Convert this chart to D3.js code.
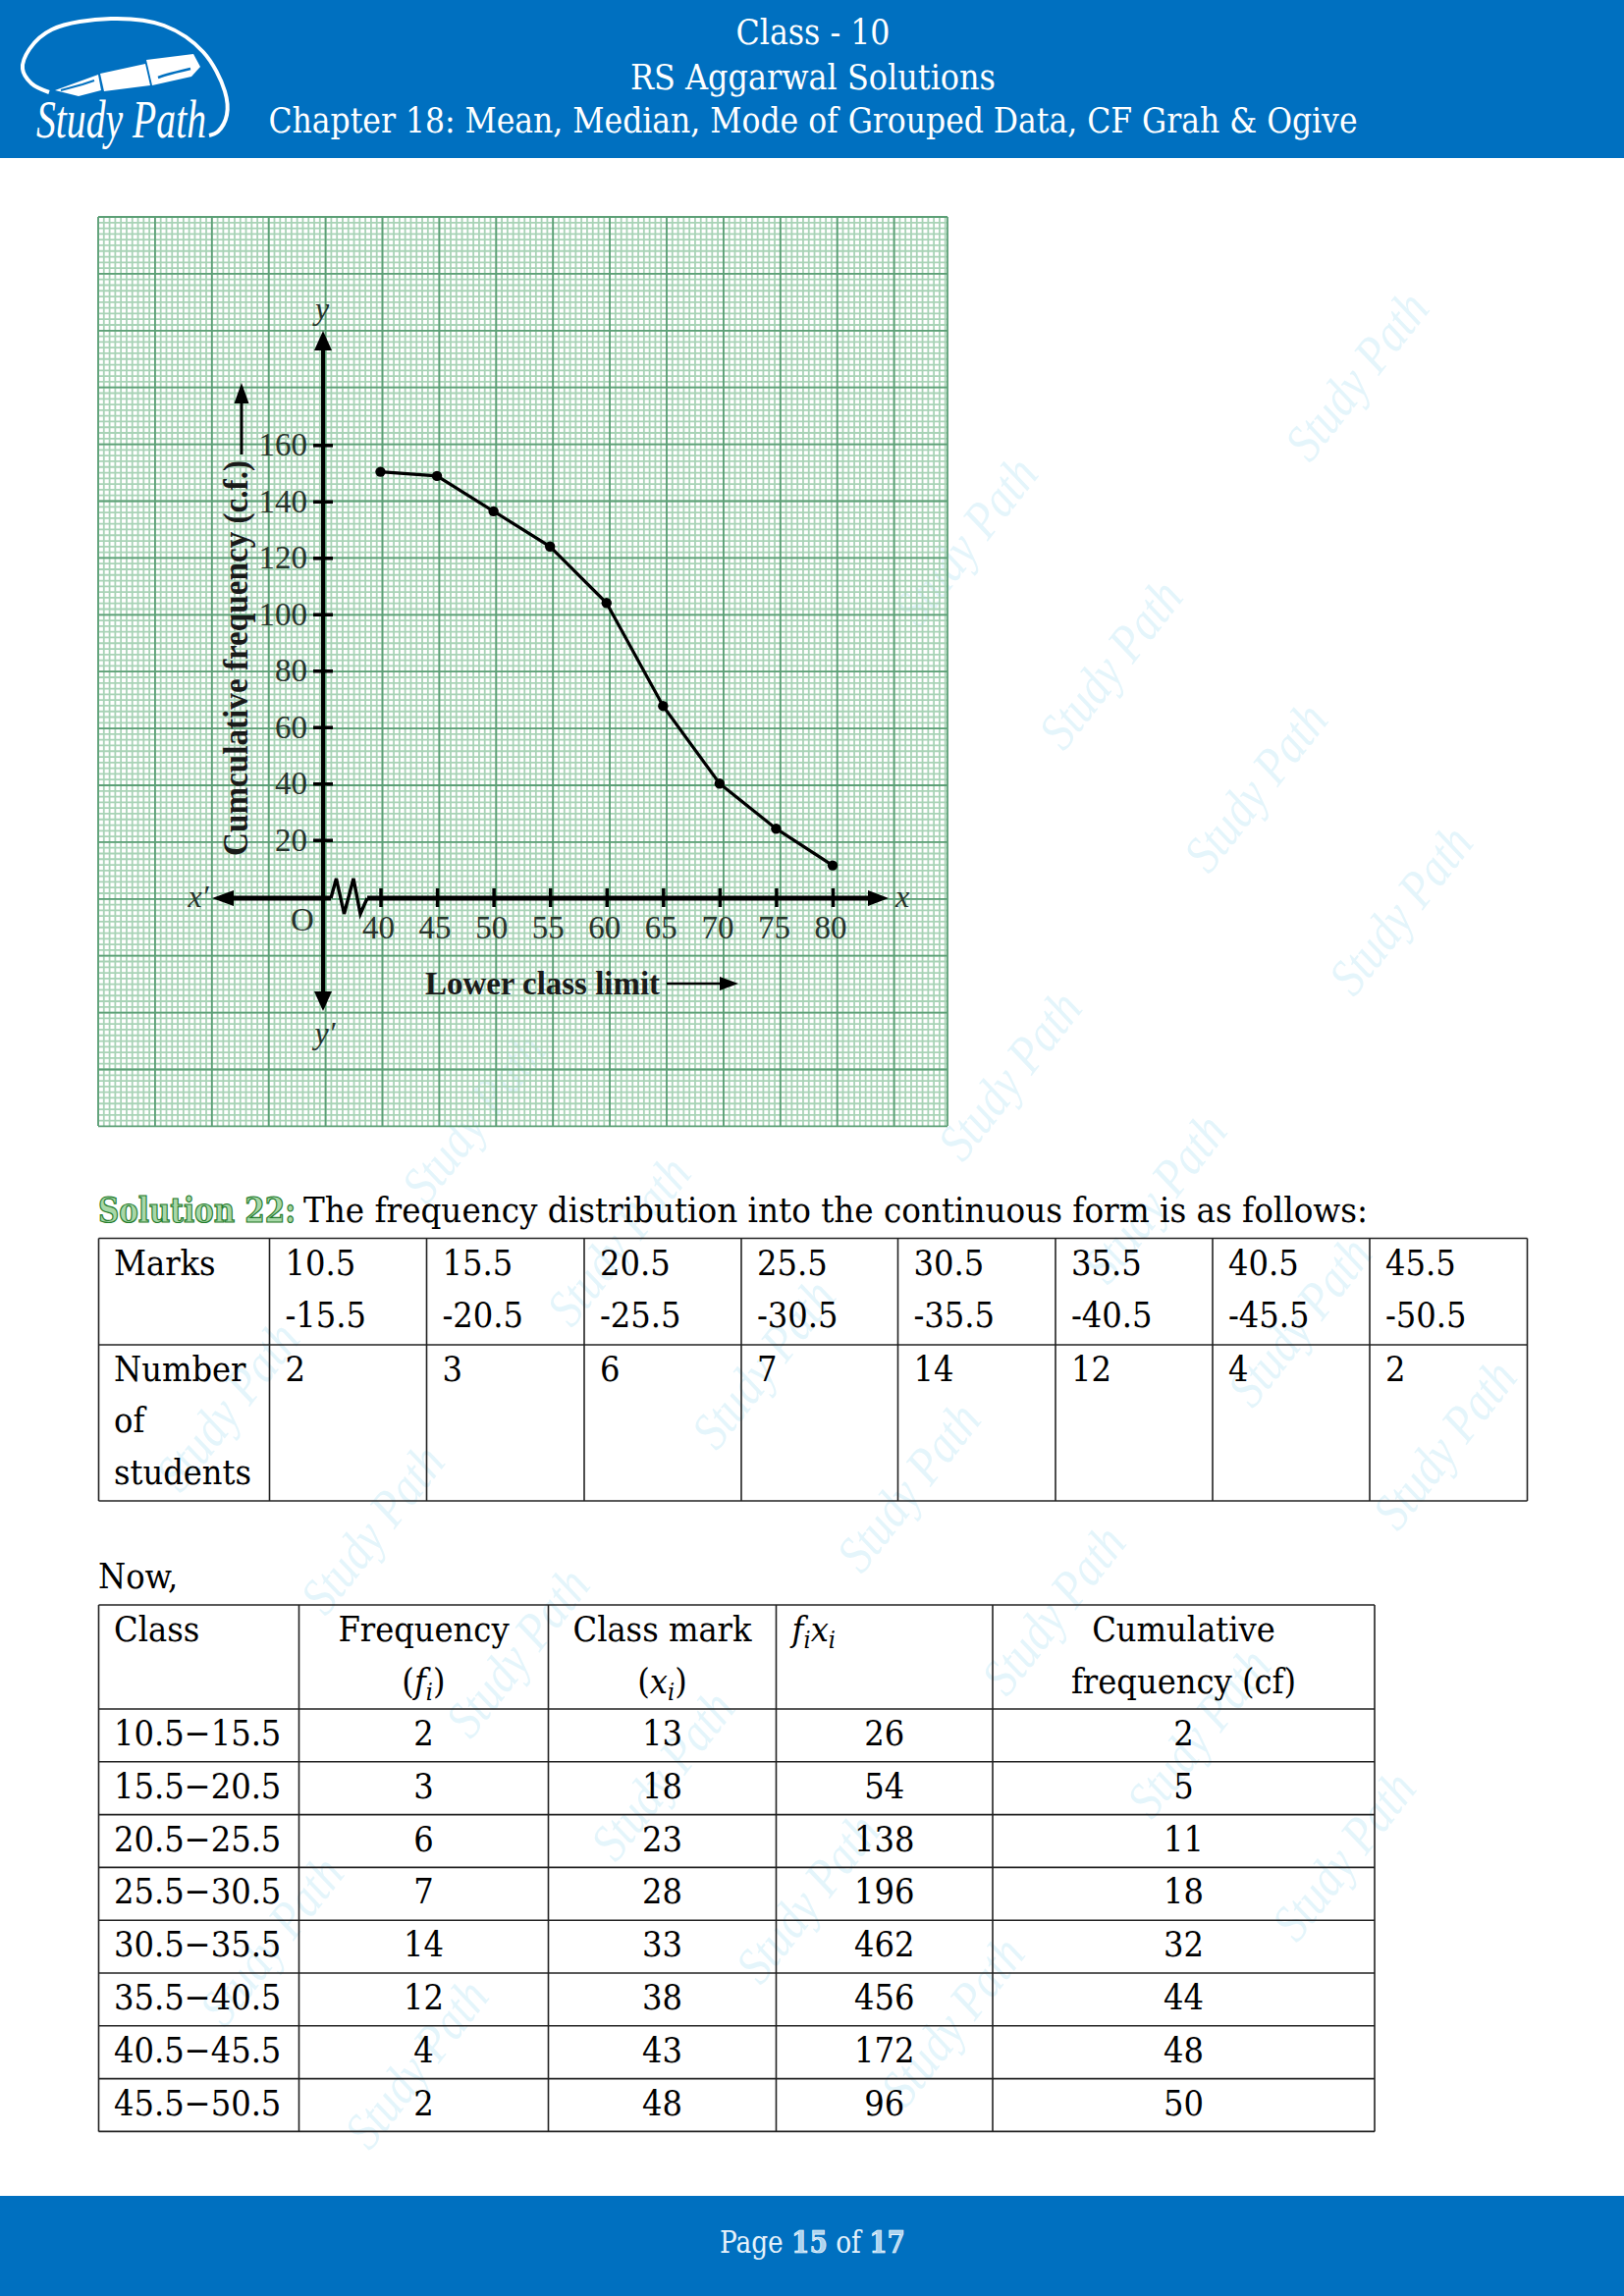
<!DOCTYPE html>
<html>
<head>
<meta charset="utf-8">
<style>
  html, body { margin: 0; padding: 0; background: #fff; }
  svg { display: block; }
  .page { font-family: "DejaVu Serif", serif; font-stretch: condensed; fill: #000; }
  .plot text { font-family: "Liberation Serif", serif; font-stretch: normal; }
</style>
<script src="https://cdn.jsdelivr.net/npm/d3@7"></script>
</head>
<body>
<div id="chart"></div>
<script>
// ogive
var lowerLimits = [40, 45, 50, 55, 60, 65, 70, 75, 80];
var cumFreq = [150.5, 149, 136.5, 124, 104, 67.5, 40, 24, 11];
var yTicks = [20, 40, 60, 80, 100, 120, 140, 160];

// first table
var marksFrom = ['10.5', '15.5', '20.5', '25.5', '30.5', '35.5', '40.5', '45.5'];
var marksTo = ['-15.5', '-20.5', '-25.5', '-30.5', '-35.5', '-40.5', '-45.5', '-50.5'];
var students = [2, 3, 6, 7, 14, 12, 4, 2];

// second table
var classes = ['10.5\u221215.5', '15.5\u221220.5', '20.5\u221225.5', '25.5\u221230.5', '30.5\u221235.5', '35.5\u221240.5', '40.5\u221245.5', '45.5\u221250.5'];
var frequency = [2, 3, 6, 7, 14, 12, 4, 2];
var classMark = [13, 18, 23, 28, 33, 38, 43, 48];
var fx = [26, 54, 138, 196, 462, 456, 172, 96];
var cf = [2, 5, 11, 18, 32, 44, 48, 50];

var headerLines = ['Class - 10', 'RS Aggarwal Solutions', 'Chapter 18: Mean, Median, Mode of Grouped Data, CF Grah & Ogive'];

var width = 1654, height = 2339;
var blue = '#0070c0';

var svg = d3.select('#chart').append('svg')
  .attr('width', width)
  .attr('height', height)
  .attr('class', 'page');

// watermark, laid out as on the page: rows of [first, last] steps
var wmRows = [[0, 0], [-1, 2], [1, 4], [-1, 5], [-1, 4], [1, 2]];
var wm = svg.append('g');
wmRows.forEach(function(r, j) {
  d3.range(r[0], r[1] + 1).forEach(function(i) {
    var cx = 1385 + i * 147.7 - j * 250.6;
    var cy = 385 + i * 125.3 + j * 293.8;
    wm.append('text')
      .attr('transform', 'translate(' + cx + ',' + cy + ') rotate(-52)')
      .attr('text-anchor', 'middle')
      .attr('dy', 14)
      .attr('textLength', 200)
      .attr('lengthAdjust', 'spacingAndGlyphs')
      .style('font-family', '"Liberation Serif", serif')
      .style('font-style', 'italic')
      .style('font-stretch', 'normal')
      .style('font-size', '54px')
      .style('fill', '#e4f5fb')
      .text('Study Path');
  });
});

// header and footer bands
svg.append('rect').attr('width', width).attr('height', 161).attr('fill', blue);
svg.append('rect').attr('y', 2237).attr('width', width).attr('height', 102).attr('fill', blue);

var headerBase = [45, 91, 135];
var headerLen = [157, 372, 1109];
svg.selectAll('.head').data(headerLines).enter().append('text')
  .attr('class', 'head')
  .attr('x', 828)
  .attr('y', function(d, i) { return headerBase[i]; })
  .attr('text-anchor', 'middle')
  .attr('textLength', function(d, i) { return headerLen[i]; })
  .attr('lengthAdjust', 'spacingAndGlyphs')
  .style('font-size', '35px')
  .style('fill', '#fff')
  .text(function(d) { return d; });

// logo
var logo = svg.append('g').attr('fill', 'none').attr('stroke', '#fff');
var arc = d3.line().curve(d3.curveCatmullRom);
logo.append('path')
  .attr('d', arc([[50, 94], [32, 85], [23, 70], [30, 50], [53, 30], [113, 19], [167, 26], [207, 53], [229, 93], [231, 117], [222, 134], [213, 138]]))
  .attr('stroke-width', 4);
var shape = d3.line().curve(d3.curveLinearClosed);
var logoShapes = [
  [[56, 92], [100, 76], [103, 92], [80, 98]],
  [[102, 75], [148, 65], [153, 87], [106, 93]],
  [[149, 61], [197, 55], [204, 68], [195, 78], [155, 87]]
];
logo.selectAll('.pen').data(logoShapes).enter().append('path')
  .attr('class', 'pen')
  .attr('d', shape)
  .attr('fill', '#fff')
  .attr('stroke', 'none');
logo.append('path')
  .attr('d', arc([[161, 79], [170, 76], [194, 70]]))
  .attr('stroke', blue)
  .attr('stroke-width', 2.5);
logo.append('path')
  .attr('d', d3.line()([[62, 92], [84, 86], [96, 82]]))
  .attr('stroke', blue)
  .attr('stroke-width', 2);
svg.append('text')
  .attr('x', 37)
  .attr('y', 140)
  .attr('textLength', 173)
  .attr('lengthAdjust', 'spacingAndGlyphs')
  .style('font-family', '"Liberation Serif", serif')
  .style('font-style', 'italic')
  .style('font-stretch', 'normal')
  .style('font-size', '54px')
  .style('fill', '#fff')
  .text('Study Path');

// graph paper
var paper = svg.append('g');
var paperLeft = 100, paperRight = 965, paperTop = 221, paperBottom = 1147, cell = 57.9;
var fine = cell / 10;

paper.selectAll('.fx').data(d3.range(paperLeft, paperRight, fine)).enter().append('line')
  .attr('x1', function(d) { return d; }).attr('x2', function(d) { return d; })
  .attr('y1', paperTop).attr('y2', paperBottom)
  .attr('stroke', '#a8d3b6').attr('stroke-width', 1.8);
paper.selectAll('.fy').data(d3.range(paperTop, paperBottom, fine)).enter().append('line')
  .attr('y1', function(d) { return d; }).attr('y2', function(d) { return d; })
  .attr('x1', paperLeft).attr('x2', paperRight)
  .attr('stroke', '#a8d3b6').attr('stroke-width', 1.8);
paper.selectAll('.mx').data(d3.range(paperLeft, paperRight + 1, cell).concat([paperRight])).enter().append('line')
  .attr('x1', function(d) { return d; }).attr('x2', function(d) { return d; })
  .attr('y1', paperTop).attr('y2', paperBottom)
  .attr('stroke', '#5c9f76').attr('stroke-width', 1.8);
paper.selectAll('.my').data(d3.range(paperTop, paperBottom + 1, cell)).enter().append('line')
  .attr('y1', function(d) { return d; }).attr('y2', function(d) { return d; })
  .attr('x1', paperLeft).attr('x2', paperRight)
  .attr('stroke', '#5c9f76').attr('stroke-width', 1.8);

// scales fitted to the printed ticks
var x = d3.scaleLinear().domain([40, 80]).range([387.5, 848]);
var y = d3.scaleLinear().domain([0, 160]).range([913.2, 453.3]);
var originX = 329, originY = 915;

var plot = svg.append('g').attr('class', 'plot');
var black = '#000';

// y axis with d3.axisLeft, x ticks with d3.axisBottom
var yAxis = d3.axisLeft(y).tickValues(yTicks).tickSize(0).tickPadding(16);
var yG = plot.append('g').attr('transform', 'translate(' + originX + ',0)').call(yAxis);
yG.select('.domain').remove();
yG.selectAll('.tick line').attr('x1', -10).attr('x2', 10).attr('stroke', black).attr('stroke-width', 3.5);
yG.selectAll('.tick text')
  .style('font-size', '33px').style('fill', '#27332b').attr('dy', 10.5);

var xAxis = d3.axisBottom(x).tickValues(lowerLimits).tickSize(0).tickPadding(19);
var xG = plot.append('g').attr('transform', 'translate(0,' + originY + ')').call(xAxis);
xG.select('.domain').remove();
xG.selectAll('.tick line').attr('y1', -10).attr('y2', 9).attr('stroke', black).attr('stroke-width', 3.5);
xG.selectAll('.tick text')
  .style('font-size', '33px').style('fill', '#27332b').attr('dy', 22).attr('dx', -2.5);

function axisLine(p, w) {
  plot.append('path').attr('d', d3.line()(p)).attr('fill', 'none').attr('stroke', black).attr('stroke-width', w);
}
function arrowHead(p) {
  plot.append('path').attr('d', d3.line().curve(d3.curveLinearClosed)(p)).attr('fill', black);
}

axisLine([[originX, 345], [originX, 1015]], 4);
axisLine([[230, originY], [337, originY]], 5);
axisLine([[374, originY], [890, originY]], 5);
axisLine([[337, originY], [342.5, 895], [350.5, 931], [360, 895], [367, 931], [374, originY]], 3.4);
arrowHead([[originX, 337], [originX - 9, 357], [originX + 9, 357]]);
arrowHead([[originX, 1030], [originX - 9, 1010], [originX + 9, 1010]]);
arrowHead([[216, originY], [238, originY - 8], [238, originY + 8]]);
arrowHead([[905, originY], [884, originY - 8], [884, originY + 8]]);

// y title and its arrow
axisLine([[246, 463], [246, 405]], 3);
arrowHead([[246, 390], [238.5, 411], [253.5, 411]]);
plot.append('text')
  .attr('transform', 'translate(252,872) rotate(-90)')
  .attr('textLength', 403)
  .attr('lengthAdjust', 'spacingAndGlyphs')
  .style('font-size', '35px').style('font-weight', 'bold').style('fill', '#1a1a1a')
  .text('Cumculative frequency (c.f.)');

// x title and its arrow
plot.append('text')
  .attr('x', 433).attr('y', 1013)
  .attr('textLength', 239)
  .attr('lengthAdjust', 'spacingAndGlyphs')
  .style('font-size', '33px').style('font-weight', 'bold').style('fill', '#1a1a1a')
  .text('Lower class limit');
axisLine([[679, 1002], [735, 1002]], 2.6);
arrowHead([[752, 1002], [733, 995], [733, 1009]]);

var axisNames = [
  { t: 'O', px: 308, py: 948, it: false, s: 33 },
  { t: 'x\u2032', px: 202, py: 924, it: true, s: 32 },
  { t: 'x', px: 919, py: 924, it: true, s: 32 },
  { t: 'y', px: 328, py: 325, it: true, s: 32 },
  { t: 'y\u2032', px: 331, py: 1063, it: true, s: 32 }
];
plot.selectAll('.name').data(axisNames).enter().append('text')
  .attr('class', 'name')
  .attr('x', function(d) { return d.px; })
  .attr('y', function(d) { return d.py; })
  .attr('text-anchor', 'middle')
  .style('font-size', function(d) { return d.s + 'px'; })
  .style('font-style', function(d) { return d.it ? 'italic' : 'normal'; })
  .style('fill', '#27332b')
  .text(function(d) { return d.t; });

// the ogive
var ogive = d3.line()
  .x(function(d) { return x(d); })
  .y(function(d, i) { return y(cumFreq[i]); });
plot.append('path')
  .attr('d', ogive(lowerLimits))
  .attr('fill', 'none').attr('stroke', '#000').attr('stroke-width', 3.2);
plot.selectAll('.pt').data(lowerLimits).enter().append('circle')
  .attr('class', 'pt')
  .attr('cx', function(d) { return x(d); })
  .attr('cy', function(d, i) { return y(cumFreq[i]); })
  .attr('r', 5.2)
  .attr('fill', '#000');

// body text
var textSize = '35.8px';
function bodyText(t, px, py, anchor) {
  return svg.append('text')
    .attr('x', px).attr('y', py)
    .attr('text-anchor', anchor || 'start')
    .style('font-size', textSize)
    .text(t);
}

svg.append('text')
  .attr('x', 100).attr('y', 1245)
  .attr('textLength', 201)
  .attr('lengthAdjust', 'spacingAndGlyphs')
  .style('font-size', textSize).style('font-weight', 'bold')
  .style('fill', '#a8d8a8').style('stroke', '#1f7a2a').style('stroke-width', 1.2)
  .text('Solution 22:');
bodyText('The frequency distribution into the continuous form is as follows:', 309, 1245)
  .attr('textLength', 1084).attr('lengthAdjust', 'spacingAndGlyphs');
bodyText('Now,', 100, 1618);

function gridLines(xs, ys) {
  xs.forEach(function(v) {
    svg.append('line').attr('x1', v).attr('x2', v).attr('y1', ys[0]).attr('y2', ys[ys.length - 1])
      .attr('stroke', '#222').attr('stroke-width', 1.6);
  });
  ys.forEach(function(v) {
    svg.append('line').attr('y1', v).attr('y2', v).attr('x1', xs[0]).attr('x2', xs[xs.length - 1])
      .attr('stroke', '#222').attr('stroke-width', 1.6);
  });
}

// table 1
var t1x = [100.5, 274.5, 434.5, 595, 755, 914.5, 1075, 1235, 1395, 1555.5];
gridLines(t1x, [1261.5, 1370, 1529]);
bodyText('Marks', 116, 1299);
bodyText('Number', 116, 1407);
bodyText('of', 116, 1459);
bodyText('students', 116, 1512);
marksFrom.forEach(function(d, i) {
  bodyText(d, t1x[i + 1] + 16, 1299);
  bodyText(marksTo[i], t1x[i + 1] + 16, 1352);
  bodyText(students[i], t1x[i + 1] + 16, 1407);
});

// table 2
var t2x = [100.5, 304.5, 558.5, 790.5, 1011, 1400];
var t2y = [1635, 1741].concat(d3.range(1, 9).map(function(k) { return 1741 + k * 53.8; }));
gridLines(t2x, t2y);

function mid(k) { return (t2x[k] + t2x[k + 1]) / 2; }

// f, x with subscript i, italic as in the print
function mathText(parts, px, py, anchor) {
  var t = bodyText('', px, py, anchor);
  parts.forEach(function(p) {
    var s = t.append('tspan').text(p.t);
    if (p.it) s.style('font-style', 'italic');
    if (p.sub) s.style('font-size', '25px').attr('dy', 7);
    if (p.up) s.attr('dy', -7);
  });
  return t;
}

bodyText('Class', 116, 1672);
bodyText('Frequency', mid(1), 1672, 'middle');
mathText([{ t: '(' }, { t: 'f', it: true }, { t: 'i', it: true, sub: true }, { t: ')', up: true }], mid(1), 1725, 'middle');
bodyText('Class mark', mid(2), 1672, 'middle');
mathText([{ t: '(' }, { t: 'x', it: true }, { t: 'i', it: true, sub: true }, { t: ')', up: true }], mid(2), 1725, 'middle');
mathText([{ t: 'f', it: true }, { t: 'i', it: true, sub: true }, { t: 'x', it: true, up: true }, { t: 'i', it: true, sub: true }], t2x[3] + 16, 1672);
bodyText('Cumulative', mid(4), 1672, 'middle');
bodyText('frequency (cf)', mid(4), 1725, 'middle');

classes.forEach(function(d, i) {
  var by = 1778 + i * 53.8;
  bodyText(d, 116, by);
  bodyText(frequency[i], mid(1), by, 'middle');
  bodyText(classMark[i], mid(2), by, 'middle');
  bodyText(fx[i], mid(3), by, 'middle');
  bodyText(cf[i], mid(4), by, 'middle');
});

// footer
var foot = svg.append('text')
  .attr('x', 733).attr('y', 2295)
  .attr('textLength', 189)
  .attr('lengthAdjust', 'spacingAndGlyphs')
  .style('font-size', '32px')
  .style('fill', '#e6f2fb');
foot.append('tspan').text('Page ');
foot.append('tspan').text('15').style('font-weight', 'bold').style('fill', '#a9d2f0').style('stroke', '#fff').style('stroke-width', 0.7);
foot.append('tspan').text(' of ');
foot.append('tspan').text('17').style('font-weight', 'bold').style('fill', '#a9d2f0').style('stroke', '#fff').style('stroke-width', 0.7);
</script>
</body>
</html>
